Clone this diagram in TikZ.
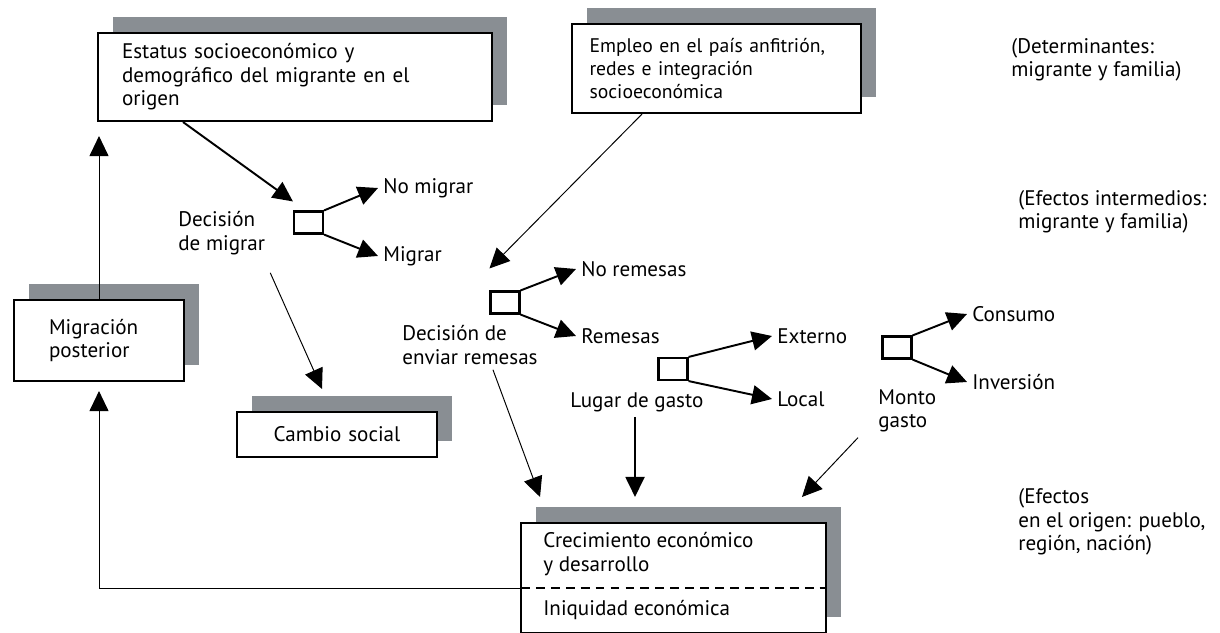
\documentclass[tikz,border=0pt]{standalone}
\usepackage{fontspec}
\setmainfont{PT Sans}
\usetikzlibrary{arrows.meta, shadows}
\definecolor{shadowgray}{RGB}{137,142,147}

\begin{document}
\begin{tikzpicture}[x=0.02cm,y=-0.02cm,font=\fontsize{12}{13.3}\selectfont]
	\tikzstyle{box} = [draw=black,fill=white,line width=1.2pt,align=left,inner ysep=0pt,drop shadow={shadow xshift=0.3cm,shadow yshift=0.32cm,fill=shadowgray,opacity=1}]
	\tikzstyle{dec} = [draw=black,fill=white,line width=1.2pt,minimum width=0.58cm,minimum height=0.44cm,inner sep=0pt]
	\tikzstyle{lbl} = [inner sep=0.1cm,align=left,anchor=west]
	\tikzstyle{edge} = [-{Triangle[length=0.4cm,width=0.38cm]},line width=1.1pt]
	\tikzstyle{edge2} = [-{Triangle[length=0.4cm,width=0.38cm]},line width=0.55pt]
	\useasboundingbox (0,0) rectangle (1220,632);
	% boxes
	\node[box,minimum height=1.76cm,text width=6.92cm,inner xsep=0.48cm] (est) at (295,77) {Estatus socioeconómico y\\demográfico del migrante en el\\origen};
	\node[box,minimum height=1.78cm,text width=5.08cm,inner xsep=0.35cm,font=\fontsize{11.2}{13.3}\selectfont] (emp) at (716.5,68.5) {Empleo en el país anfitrión,\\redes e integración\\socioeconómica};
	\node[box,minimum height=1.62cm,text width=2.0cm,inner xsep=0.7cm] (migp) at (99,340.5) {Migración\\posterior};
	\node[box,minimum height=0.9cm,text width=3.2cm,inner xsep=0.4cm,align=center] (cam) at (337,434.5) {Cambio social};
	\node[box,minimum width=6.1cm,minimum height=2.2cm] (crec) at (673.5,578) {};
	\node[lbl] (crec1) at (538,554) {Crecimiento económico\\y desarrollo};
	\node[lbl] (crec2) at (538,610) {Iniquidad económica};
	\coordinate (sp) at (521,588);
	\draw[dashed,dash pattern=on 5pt off 3.5pt,line width=0.6pt] (sp) -- (sp -| crec.east);
	% decision squares
	\node[dec] (sq1) at (308.5,222.5) {};
	\node[dec] (sq2) at (505,302.5) {};
	\node[dec] (sq3) at (673,369) {};
	\node[dec] (sq4) at (897,347.5) {};
	% labels
	\node[lbl] (dec1) at (173,233) {Decisión\\de migrar};
	\node[lbl] (dec2) at (397,345) {Decisión de\\enviar remesas};
	\node[lbl] (lug) at (565,402) {Lugar de gasto};
	\node[lbl] (monto) at (873,411) {Monto\\gasto};
	\node[lbl] (nomig) at (378,188) {No migrar};
	\node[lbl] (simig) at (378,256) {Migrar};
	\node[lbl] (norem) at (576,269) {No remesas};
	\node[lbl] (rem) at (576,336) {Remesas};
	\node[lbl] (ext) at (772,336) {Externo};
	\node[lbl] (loc) at (772,399) {Local};
	\node[lbl] (cons) at (967,314) {Consumo};
	\node[lbl] (inv) at (967,382) {Inversión};
	\node[lbl] (lev1) at (1006,60) {(Determinantes:\\migrante y familia)};
	\node[lbl] (lev2) at (1013,212) {(Efectos intermedios:\\migrante y familia)};
	\node[lbl] (lev3) at (1013,522) {(Efectos\\en el origen: pueblo,\\región, nación)};
	% branches
	\draw[edge] (sq1.north east) -- (nomig.west);
	\draw[edge] (sq1.south east) -- (simig.west);
	\draw[edge] (sq2.north east) -- (norem.west);
	\draw[edge] (sq2.south east) -- (rem.west);
	\draw[edge] (sq3.north east) -- (ext.west);
	\draw[edge] (sq3.south east) -- (loc.west);
	\draw[edge] (sq4.north east) -- (cons.west);
	\draw[edge] (sq4.south east) -- (inv.west);
	% links
	\draw[edge] ([xshift=-2.24cm]est.south) -- ([yshift=0.18cm]sq1.north west);
	\draw[edge2] ([xshift=-1.49cm]emp.south) -- ([yshift=0.44cm]sq2.north west);
	\draw[edge2] ([yshift=-0.26cm]dec1.south east) -- ([xshift=-0.3cm,yshift=0.44cm]cam.north);
	\coordinate (c2) at ([xshift=-0.77cm,yshift=0.5cm]crec.north);
	\draw[edge2] ([xshift=0.46cm]dec2.south) -- ([xshift=-2.67cm,yshift=0.5cm]crec.north);
	\draw[edge] (lug.south -| c2) -- (c2);
	\draw[edge2] ([xshift=-0.3cm]monto.south west) -- ([xshift=2.57cm,yshift=0.5cm]crec.north);
	% feedback
	\draw[edge2] (sp) -| ([yshift=-0.18cm]migp.south);
	\draw[edge2,shorten >=0.28cm] (migp.north) -- (migp.north |- est.south);
\end{tikzpicture}
\end{document}
